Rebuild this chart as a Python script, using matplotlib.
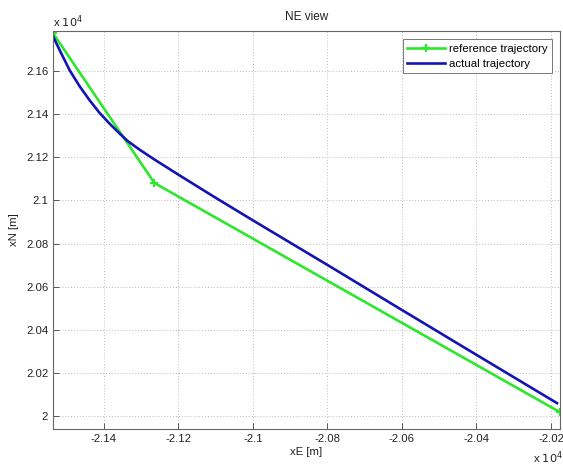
import matplotlib.pyplot as plt
from matplotlib.ticker import FuncFormatter, MultipleLocator

# reference trajectory (m)
ref_e = [-21536, -21264, -20176]
ref_n = [21776, 21081, 20018]

# actual trajectory (m)
act_e = [-21536, -21517, -21491, -21464, -21437, -21411, -21384, -21357,
         -21336, -21304, -21264, -21200, -21104, -21000, -20797, -20600,
         -20403, -20184]
act_n = [21762, 21693, 21603, 21528, 21463, 21406, 21356, 21310,
         21276, 21236, 21190, 21120, 21017, 20908, 20698, 20492,
         20287, 20060]

plt.rcParams.update({
    'font.family': 'Liberation Sans',
    'font.size': 8.2,
})

fig = plt.figure(figsize=(5.63, 4.65), dpi=100)
ax = fig.add_axes([53 / 563, 36 / 465, 507 / 563, 398 / 465])

ax.plot(ref_e, ref_n, '-+', color='#2EE62E', linewidth=1.9,
        markersize=6, markeredgewidth=1.6, label='reference trajectory')
ax.plot(act_e, act_n, '-', color='#1414B4', linewidth=1.9,
        label='actual trajectory')

ax.set_xlim(-21536, -20176)
ax.set_ylim(19940, 21786)

ax.xaxis.set_major_locator(MultipleLocator(200))
ax.yaxis.set_major_locator(MultipleLocator(200))
fmt = FuncFormatter(lambda v, p: '%g' % round(v / 1e4, 4))
ax.xaxis.set_major_formatter(fmt)
ax.yaxis.set_major_formatter(fmt)

ax.tick_params(direction='in', length=4, width=0.7, colors='#555555',
               labelcolor='#222222', labelsize=8.2, pad=3.5, top=False, right=False)
for s in ax.spines.values():
    s.set_color('#666666')
    s.set_linewidth(0.8)

ax.grid(True, linestyle=(0, (1, 2)), linewidth=0.7, color='#BBBBBB')

ax.set_title('NE view', fontsize=8.5, color='#222222', pad=8)
ax.set_xlabel('xE [m]', fontsize=8.2, color='#222222', labelpad=2)
ax.set_ylabel('xN [m]', fontsize=8.2, color='#222222', labelpad=5)

fig.text(53 / 563, 1 - 22 / 465, r'x $10^{4}$', fontsize=8.2,
         color='#222222', va='center', ha='left')
fig.text(533 / 563, 1 - 458 / 465, r'x $10^{4}$', fontsize=8.2,
         color='#222222', va='center', ha='left')

leg = ax.legend(loc='upper right', fontsize=8.2, fancybox=False,
                framealpha=1, edgecolor='#777777', borderaxespad=0.7,
                handlelength=3.3, handletextpad=0.35, borderpad=0.4,
                labelspacing=0.45)
leg.get_frame().set_linewidth(0.7)

fig.savefig('out.png', dpi=100)
